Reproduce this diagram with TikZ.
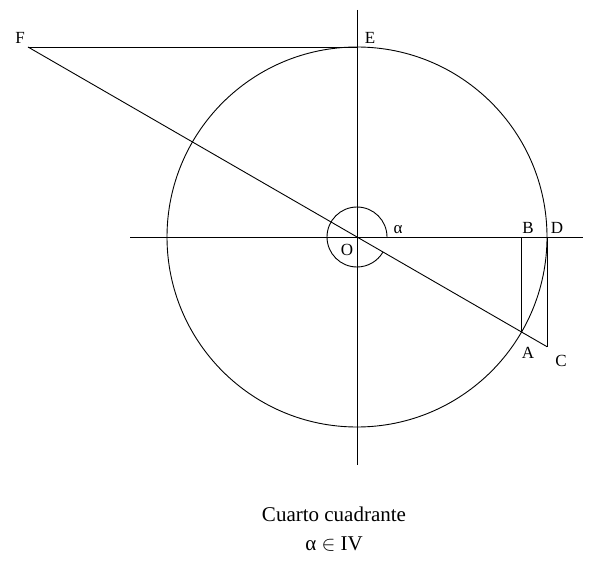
\documentclass[tikz,border=0pt]{standalone}
\usepackage{fontspec}
\setmainfont{Liberation Serif}
\usetikzlibrary{calc}
\tikzset{
  trazo/.style={draw=black, line width=0.9pt},
  letra/.style={font=\fontsize{17}{17}\selectfont, inner sep=0pt},
  titulo/.style={font=\fontsize{21}{29}\selectfont, align=center, inner sep=0pt}
}
\begin{document}
\begin{tikzpicture}[x=1pt,y=-1pt]
  \useasboundingbox (0,0) rectangle (591,561);
  % puntos
  \coordinate (O) at (357,237);
  \coordinate (D) at (547,237);
  \coordinate (E) at (357,47);
  \coordinate (A) at (521.5,332);
  \coordinate (B) at (521.5,237);
  \coordinate (C) at (547,346.7);
  \coordinate (F) at (28,47);
  \coordinate (ejeN) at (357,10);
  \coordinate (ejeS) at (357,465);
  \coordinate (ejeW) at (130,237);
  \coordinate (ejeE) at (583,237);
  % ejes y circulo
  \draw[trazo] (ejeW) -- (ejeE);
  \draw[trazo] (ejeN) -- (ejeS);
  \draw[trazo] (O) circle[radius=190];
  \draw[trazo] ($(O)+(30,0)$) arc[start angle=0, end angle=-330, radius=30];
  % segmentos
  \draw[trazo] (F) -- (E);
  \draw[trazo] (F) -- (C);
  \draw[trazo] (B) -- (A);
  \draw[trazo] (D) -- (C);
  % etiquetas
  \node[letra] (lF) at (20,38) {F};
  \node[letra] (lE) at (370,38) {E};
  \node[letra] (lB) at (528,228) {B};
  \node[letra] (lD) at (557,228) {D};
  \node[letra] (lA) at (528,353) {A};
  \node[letra] (lC) at (561,361) {C};
  \node[letra] (la) at (398,230) {α};
  \node[letra] (lO) at (347,250) {O};
  \node[titulo] (t) at (334,529) {Cuarto cuadrante\\α $\in$ IV};
\end{tikzpicture}
\end{document}
